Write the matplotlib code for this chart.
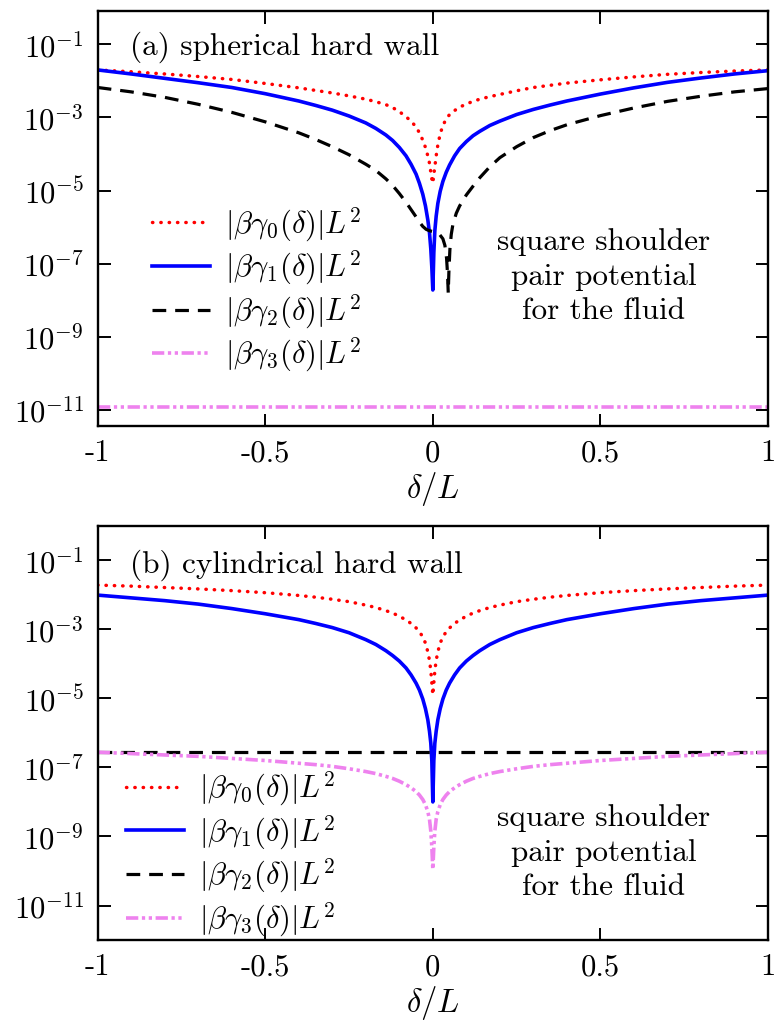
import numpy as np
import matplotlib
matplotlib.use("Agg")
import matplotlib.pyplot as plt

plt.rcParams['font.family'] = ['cmr10', 'DejaVu Serif']
plt.rcParams['mathtext.fontset'] = 'cm'
plt.rcParams['axes.unicode_minus'] = False
plt.rcParams['axes.formatter.use_mathtext'] = True

# ---------------- data (log10 of |beta gamma_i| L^2) ------------
# panel (a): spherical hard wall
a_g0_x = [-1.0, -0.9, -0.8, -0.7, -0.6, -0.5, -0.4, -0.35, -0.3, -0.25, -0.2, -0.17, -0.14, -0.12,
          -0.1, -0.08, -0.065, -0.05, -0.04, -0.03, -0.022, -0.015, -0.01, -0.006, -0.003, 0.0,
          0.003, 0.006, 0.01, 0.015, 0.022, 0.03, 0.04, 0.05, 0.065, 0.08, 0.1, 0.12, 0.14, 0.17,
          0.2, 0.25, 0.3, 0.35, 0.4, 0.5, 0.6, 0.7, 0.8, 0.9, 1.0]
a_g0_log = [-1.70, -1.75, -1.81, -1.88, -1.96, -2.07, -2.19, -2.26, -2.33, -2.41, -2.50, -2.57, -2.65, -2.73,
            -2.84, -2.98, -3.10, -3.26, -3.42, -3.62, -3.82, -4.05, -4.25, -4.50, -4.68, -4.80,
            -4.55, -4.35, -4.05, -3.75, -3.45, -3.22, -3.04, -2.92, -2.81, -2.72, -2.63, -2.56, -2.50, -2.43,
            -2.37, -2.27, -2.18, -2.12, -2.06, -1.97, -1.89, -1.82, -1.77, -1.73, -1.70]

a_g1_x = a_g0_x
a_g1_log = [-1.70, -1.81, -1.93, -2.05, -2.18, -2.35, -2.55, -2.67, -2.80, -2.96, -3.15, -3.30, -3.48, -3.63,
            -3.82, -4.05, -4.28, -4.55, -4.80, -5.10, -5.42, -5.80, -6.15, -6.60, -7.10, -7.72,
            -6.70, -6.10, -5.70, -5.35, -5.02, -4.75, -4.50, -4.30, -4.05, -3.85, -3.66, -3.50, -3.38, -3.22,
            -3.10, -2.92, -2.78, -2.66, -2.55, -2.36, -2.19, -2.04, -1.92, -1.81, -1.72]

a_g2_x = [-1.0, -0.9, -0.8, -0.7, -0.6, -0.5, -0.4, -0.35, -0.3, -0.25, -0.2, -0.17, -0.14, -0.12,
          -0.1, -0.08, -0.065, -0.05, -0.04, -0.03, -0.02, -0.01, 0.0,
          0.01, 0.02, 0.03, 0.036, 0.041, 0.044, 0.046, 0.048, 0.051, 0.055, 0.06, 0.07, 0.08, 0.1,
          0.12, 0.14, 0.17, 0.2, 0.25, 0.3, 0.35, 0.4, 0.5, 0.6, 0.7, 0.8, 0.9, 1.0]
a_g2_log = [-2.18, -2.30, -2.45, -2.64, -2.86, -3.12, -3.42, -3.60, -3.80, -4.02, -4.28, -4.45, -4.68, -4.86,
            -5.08, -5.32, -5.52, -5.72, -5.86, -5.98, -6.06, -6.10, -6.12,
            -6.14, -6.20, -6.32, -6.50, -6.85, -7.30, -7.80, -7.20, -6.60, -6.20, -5.92, -5.62, -5.42, -5.12,
            -4.88, -4.65, -4.35, -4.10, -3.80, -3.55, -3.36, -3.20, -2.95, -2.74, -2.56, -2.42, -2.30, -2.21]

a_g3_x = [-1.0, -0.5, 0.0, 0.5, 1.0]
a_g3_log = [-10.91, -10.91, -10.91, -10.91, -10.91]

# panel (b): cylindrical hard wall
b_x = [-1.0, -0.9, -0.8, -0.7, -0.6, -0.5, -0.4, -0.35, -0.3, -0.25, -0.2, -0.17, -0.14, -0.12,
       -0.1, -0.08, -0.065, -0.05, -0.04, -0.03, -0.022, -0.015, -0.01, -0.006, -0.003, 0.0,
       0.003, 0.006, 0.01, 0.015, 0.022, 0.03, 0.04, 0.05, 0.065, 0.08, 0.1, 0.12, 0.14, 0.17,
       0.2, 0.25, 0.3, 0.35, 0.4, 0.5, 0.6, 0.7, 0.8, 0.9, 1.0]
b_g0_log = [-1.72, -1.75, -1.79, -1.83, -1.88, -1.94, -2.02, -2.07, -2.13, -2.20, -2.30, -2.37, -2.46, -2.53,
            -2.62, -2.73, -2.83, -2.96, -3.07, -3.22, -3.40, -3.65, -3.90, -4.20, -4.55, -4.90,
            -4.55, -4.20, -3.90, -3.65, -3.40, -3.22, -3.07, -2.96, -2.83, -2.73, -2.62, -2.53, -2.46, -2.37,
            -2.30, -2.20, -2.13, -2.07, -2.02, -1.94, -1.88, -1.83, -1.79, -1.75, -1.72]
b_g1_log = [-2.01, -2.09, -2.17, -2.27, -2.40, -2.55, -2.72, -2.83, -2.95, -3.10, -3.30, -3.44, -3.62, -3.76,
            -3.92, -4.12, -4.32, -4.56, -4.76, -5.02, -5.30, -5.62, -5.95, -6.30, -6.80, -8.00,
            -6.80, -6.30, -5.95, -5.62, -5.30, -5.02, -4.76, -4.56, -4.32, -4.12, -3.92, -3.76, -3.62, -3.44,
            -3.30, -3.10, -2.95, -2.83, -2.72, -2.55, -2.40, -2.27, -2.17, -2.09, -2.01]
b_g2_x = [-1.0, -0.5, 0.0, 0.5, 1.0]
b_g2_log = [-6.56, -6.56, -6.56, -6.56, -6.56]
b_g3_log = [-6.56, -6.60, -6.64, -6.68, -6.74, -6.80, -6.88, -6.92, -6.97, -7.04, -7.12, -7.18, -7.26, -7.32,
            -7.40, -7.50, -7.59, -7.70, -7.80, -7.93, -8.08, -8.28, -8.50, -8.85, -9.30, -9.95,
            -9.30, -8.85, -8.50, -8.28, -8.08, -7.93, -7.80, -7.70, -7.59, -7.50, -7.40, -7.32, -7.26, -7.18,
            -7.12, -7.04, -6.97, -6.92, -6.88, -6.80, -6.74, -6.68, -6.64, -6.60, -6.56]

legend_labels = [r'$|\beta\gamma_0(\delta)|L^2$', r'$|\beta\gamma_1(\delta)|L^2$',
                 r'$|\beta\gamma_2(\delta)|L^2$', r'$|\beta\gamma_3(\delta)|L^2$']
xtick_vals = [-1, -0.5, 0, 0.5, 1]
xtick_labels = ['-1', '-0.5', '0', '0.5', '1']
ytick_exps = [-1, -3, -5, -7, -9, -11]
panel_titles = ['(a) spherical hard wall', '(b) cylindrical hard wall']
note_text = 'square shoulder\npair potential\nfor the fluid'

# ---------------- styles ----------------
styles = [
    dict(color='#ff0000', lw=2.5, ls=(0, (0.1, 2.3)), dash_capstyle='round'),
    dict(color='#0000ff', lw=2.6, ls='-'),
    dict(color='black', lw=2.3, ls=(0, (4.3, 2.8))),
    dict(color='#ee82ee', lw=2.6, ls=(0, (3.4, 1.0, 0.9, 1.0, 0.9, 1.0))),
]

fig = plt.figure(figsize=(7.77, 10.21), dpi=100)
axA = fig.add_axes([0.1257, 0.5828, 0.8627, 0.4067])
axB = fig.add_axes([0.1257, 0.0793, 0.8627, 0.4058])

panels = [
    (axA, [(a_g0_x, a_g0_log), (a_g1_x, a_g1_log), (a_g2_x, a_g2_log), (a_g3_x, a_g3_log)],
     (10**-11.44, 10**-0.08), (0.048, 0.9126), (0.0806, 0.328), (0.755, 0.3595)),
    (axB, [(b_x, b_g0_log), (b_x, b_g1_log), (b_g2_x, b_g2_log), (b_x, b_g3_log)],
     (1e-12, 1.0), (0.048, 0.905), (0.0422, 0.207), (0.755, 0.211)),
]

for i, (ax, series, ylim, tpos, lpos, npos) in enumerate(panels):
    handles = []
    for (xs, ls_), st, lab in zip(series, styles, legend_labels):
        h, = ax.plot(xs, 10.0 ** np.array(ls_), label=lab, **st)
        handles.append(h)
    ax.set_yscale('log')
    ax.set_xlim(-1, 1)
    ax.set_ylim(*ylim)
    ax.set_yticks([10.0 ** e for e in ytick_exps])
    ax.set_yticklabels([r'$10^{%d}$' % e for e in ytick_exps])
    ax.yaxis.set_minor_locator(matplotlib.ticker.NullLocator())
    ax.set_xticks(xtick_vals)
    ax.set_xticklabels(xtick_labels)
    ax.tick_params(axis='both', which='major', direction='in', length=9, width=1.4,
                   top=True, right=True, labelsize=22, pad=10)
    for sp in ax.spines.values():
        sp.set_linewidth(1.7)
    ax.set_xlabel(r'$\delta/L$', fontsize=23.5, labelpad=2)
    ax.text(tpos[0], tpos[1], panel_titles[i], transform=ax.transAxes,
            fontsize=22.5, ha='left', va='center')
    ax.text(npos[0], npos[1], note_text, transform=ax.transAxes,
            fontsize=22.5, ha='center', va='center', linespacing=1.3)
    ax.legend(handles=handles, loc='center left', bbox_to_anchor=lpos, frameon=False,
              fontsize=22, handlelength=1.9, handletextpad=0.5, labelspacing=0.17,
              borderpad=0, borderaxespad=0)

fig.savefig('out.png', dpi=100)
